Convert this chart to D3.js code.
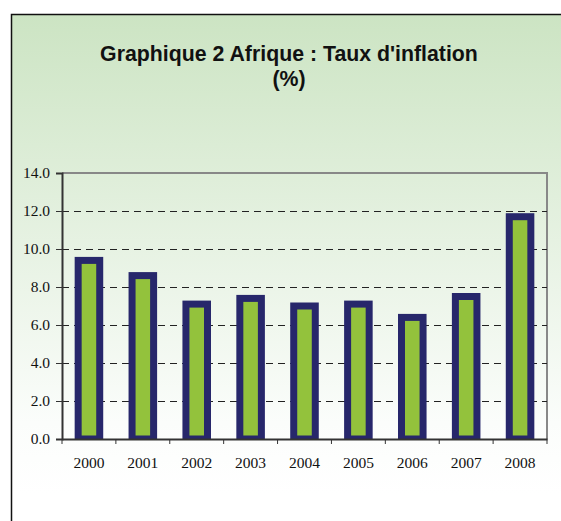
<!DOCTYPE html>
<html>
<head>
<meta charset="utf-8">
<script src="https://cdn.jsdelivr.net/npm/d3@7"></script>
<style>
  body { margin: 0; background: #fff; }
</style>
</head>
<body>
<script>
// data
const years = ['2000', '2001', '2002', '2003', '2004', '2005', '2006', '2007', '2008'];
const inflation = [9.4, 8.6, 7.1, 7.4, 7.0, 7.1, 6.4, 7.5, 11.7];
const yTicks = [0, 2, 4, 6, 8, 10, 12, 14];
const titleLines = ["Graphique 2 Afrique : Taux d'inflation", '(%)'];

let w = 561,
    h = 521;

let margin = { left: 62, right: 14, top: 173, bottom: 82 };

let svg = d3.select('body')
    .append('svg')
    .attr('width', w)
    .attr('height', h);

// background gradient of the frame
let defs = svg.append('defs');
let grad = defs.append('linearGradient')
    .attr('id', 'bg')
    .attr('x1', 0).attr('y1', 0)
    .attr('x2', 0).attr('y2', 1);
grad.append('stop').attr('offset', '0%').attr('stop-color', '#cce4c3');
grad.append('stop').attr('offset', '85%').attr('stop-color', '#fbfdfb');
grad.append('stop').attr('offset', '100%').attr('stop-color', '#ffffff');

svg.append('rect')
    .attr('x', 11.5)
    .attr('y', 14.5)
    .attr('width', w)
    .attr('height', 480)
    .attr('fill', 'url(#bg)');

svg.append('rect')
    .attr('x', 11.5)
    .attr('y', 494.5)
    .attr('width', w)
    .attr('height', 40)
    .attr('fill', '#fff');

// frame border
svg.append('path')
    .attr('d', `M11.5,${h + 2} V14.5 H${w + 2}`)
    .attr('fill', 'none')
    .attr('stroke', '#111')
    .attr('stroke-width', 1.5);

// title
let title = svg.append('text')
    .attr('x', 289)
    .attr('y', 61)
    .attr('text-anchor', 'middle')
    .attr('font-family', "'Liberation Sans', Arial, sans-serif")
    .attr('font-weight', 'bold')
    .attr('font-size', 21.3)
    .attr('fill', '#111');

title.selectAll('tspan')
    .data(titleLines)
    .enter()
    .append('tspan')
    .attr('x', 289)
    .attr('dy', (d, i) => i ? 25 : 0)
    .text(d => d);

let x = d3.scaleBand()
    .domain(years)
    .range([margin.left, w - margin.right]);

let y = d3.scaleLinear()
    .domain([0, 14])
    .range([h - margin.bottom, margin.top]);

// plot area outline (top and right)
svg.append('path')
    .attr('d', `M${margin.left},${y(14)} H${w - margin.right} V${y(0)}`)
    .attr('fill', 'none')
    .attr('stroke', '#888')
    .attr('stroke-width', 2);

// dashed grid
svg.selectAll('.grid')
    .data(yTicks.filter(d => d > 0 && d < 14))
    .enter()
    .append('line')
    .attr('class', 'grid')
    .attr('x1', margin.left)
    .attr('x2', w - margin.right)
    .attr('y1', d => Math.round(y(d)) + 0.5)
    .attr('y2', d => Math.round(y(d)) + 0.5)
    .attr('stroke', '#222')
    .attr('stroke-width', 1)
    .attr('stroke-dasharray', '7,5');

// bars
const barW = x.bandwidth() * 0.4;
svg.append('clipPath')
    .attr('id', 'plotclip')
    .append('rect')
    .attr('x', margin.left)
    .attr('y', margin.top)
    .attr('width', w - margin.left - margin.right)
    .attr('height', y(0) - margin.top);

svg.append('g')
    .attr('clip-path', 'url(#plotclip)')
    .selectAll('rect')
    .data(years.map((d, i) => ({ year: d, value: inflation[i] })))
    .enter()
    .append('rect')
    .attr('x', d => x(d.year) + (x.bandwidth() - barW) / 2)
    .attr('y', d => y(d.value))
    .attr('width', barW)
    .attr('height', d => y(0) - y(d.value))
    .attr('fill', '#93c23c')
    .attr('stroke', '#27276b')
    .attr('stroke-width', 7);

// y axis
let yAxis = d3.axisLeft(y)
    .tickValues(yTicks)
    .tickFormat(d3.format('.1f'))
    .tickSize(6)
    .tickPadding(6);

let gy = svg.append('g')
    .attr('transform', `translate(${margin.left},0)`)
    .call(yAxis);

// x axis, ticks between categories
let xAxis = d3.axisBottom(x)
    .tickSize(0)
    .tickPadding(18);

let gx = svg.append('g')
    .attr('transform', `translate(0,${y(0)})`)
    .call(xAxis);

gx.selectAll('.tickmark')
    .data(d3.range(years.length + 1))
    .enter()
    .append('line')
    .attr('class', 'tickmark')
    .attr('x1', i => margin.left + i * x.step())
    .attr('x2', i => margin.left + i * x.step())
    .attr('y1', 0)
    .attr('y2', 5)
    .attr('stroke', '#333');

[gx, gy].forEach(g => {
    g.select('.domain').attr('stroke', '#333').attr('stroke-width', 2);
    g.selectAll('.tick line').attr('stroke', '#333');
    g.selectAll('text')
        .attr('font-family', "'Liberation Serif', 'Times New Roman', serif")
        .attr('font-size', 15.5)
        .attr('fill', '#111');
});
</script>
</body>
</html>
